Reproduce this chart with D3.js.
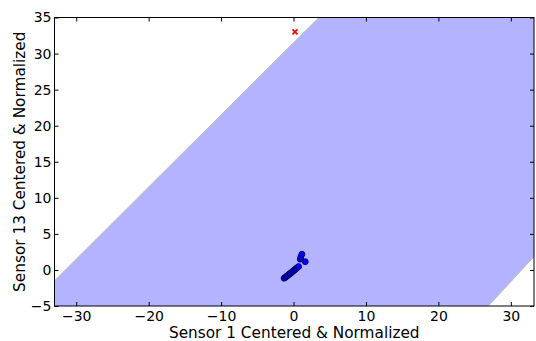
<!DOCTYPE html>
<html>
<head>
<meta charset="utf-8">
<script src="https://cdn.jsdelivr.net/npm/d3@7"></script>
<style>
body { margin: 0; background: #fff; }
text { font-family: "DejaVu Sans", sans-serif; }
</style>
</head>
<body>
<svg width="536" height="341"></svg>
<script>
// data
var xTicks = [-30, -20, -10, 0, 10, 20, 30];
var yTicks = [-5, 0, 5, 10, 15, 20, 25, 30, 35];
// band edges (upper-left and lower-right boundary lines)
var upperEdge = [[-33, -1.5], [3.5, 35]];
var lowerEdge = [[26.9, -5], [33.2, 1.85]];
// normal samples
var normX = [-1.3, -1.15, -1.0, -0.85, -0.7, -0.55, -0.4, -0.25, -0.1, 0.05, 0.2, 0.35, 0.5, 0.7, 0.93, 1.0, 1.16, 1.62];
var normY = [-1.15, -1.05, -0.92, -0.8, -0.68, -0.55, -0.45, -0.32, -0.2, -0.08, 0.05, 0.18, 0.3, 0.46, 1.48, 1.8, 2.18, 1.15];
// outlier
var outX = [0.2];
var outY = [33];

var margin = {left: 54.5, top: 17.5, right: 2, bottom: 35};
var W = 536, H = 341;

var svg = d3.select("svg");

var x = d3.scaleLinear().domain([-33, 33.2]).range([margin.left, W - margin.right]);
var y = d3.scaleLinear().domain([-5, 35]).range([H - margin.bottom, margin.top]);

svg.append("clipPath").attr("id", "clip")
    .append("rect")
    .attr("x", x.range()[0]).attr("y", y.range()[1])
    .attr("width", x.range()[1] - x.range()[0])
    .attr("height", y.range()[0] - y.range()[1]);

var plot = svg.append("g").attr("clip-path", "url(#clip)");

// band polygon: extend both edge lines far outside the axes
function extend(p) {
    var s = (p[1][1] - p[0][1]) / (p[1][0] - p[0][0]);
    var x0 = -100, x1 = 100;
    return [[x0, p[0][1] + s * (x0 - p[0][0])], [x1, p[0][1] + s * (x1 - p[0][0])]];
}
var up = extend(upperEdge), lo = extend(lowerEdge);
var poly = [up[0], up[1], lo[1], lo[0]];

plot.append("path")
    .attr("d", d3.line().x(function (d) { return x(d[0]); }).y(function (d) { return y(d[1]); })(poly) + "Z")
    .attr("fill", "#b3b3ff")
    .attr("stroke", "#bdbdbd")
    .attr("stroke-width", 1);

// normal points
var pts = normX.map(function (d, i) { return [d, normY[i]]; });
plot.selectAll("circle.n")
    .data(pts)
    .enter().append("circle")
    .attr("class", "n")
    .attr("cx", function (d) { return x(d[0]); })
    .attr("cy", function (d) { return y(d[1]); })
    .attr("r", 3)
    .attr("fill", "#0000ff")
    .attr("stroke", "#00004d")
    .attr("stroke-width", 0.8);

// outlier cross
var outs = outX.map(function (d, i) { return [d, outY[i]]; });
plot.selectAll("path.o")
    .data(outs)
    .enter().append("path")
    .attr("class", "o")
    .attr("transform", function (d) { return "translate(" + x(d[0]) + "," + y(d[1]) + ")"; })
    .attr("d", "M-2.5,-2.5L2.5,2.5M-2.5,2.5L2.5,-2.5")
    .attr("stroke", "#ff0000")
    .attr("stroke-width", 1.8);

// axes (ticks inward, all four sides)
var tickLen = 4;
var fmt = function (d) { return d < 0 ? "\u2212" + Math.abs(d) : d; };
var gx = svg.append("g").attr("transform", "translate(0," + y.range()[0] + ")")
    .call(d3.axisBottom(x).tickValues(xTicks).tickSizeInner(-tickLen).tickSizeOuter(0).tickPadding(5).tickFormat(fmt));
var gx2 = svg.append("g").attr("transform", "translate(0," + y.range()[1] + ")")
    .call(d3.axisTop(x).tickValues(xTicks).tickSizeInner(-tickLen).tickSizeOuter(0).tickFormat(""));
var gy = svg.append("g").attr("transform", "translate(" + x.range()[0] + ",0)")
    .call(d3.axisLeft(y).tickValues(yTicks).tickSizeInner(-tickLen).tickSizeOuter(0).tickPadding(3).tickFormat(fmt));
var gy2 = svg.append("g").attr("transform", "translate(" + x.range()[1] + ",0)")
    .call(d3.axisRight(y).tickValues(yTicks).tickSizeInner(-tickLen).tickSizeOuter(0).tickFormat(""));

[gx, gx2, gy, gy2].forEach(function (g) {
    g.select(".domain").remove();
    g.selectAll("line").attr("stroke", "#000").attr("stroke-width", 1);
    g.selectAll("text").attr("font-size", 14).attr("fill", "#000").style("font-family", "DejaVu Sans, sans-serif");
});

svg.append("rect")
    .attr("x", x.range()[0]).attr("y", y.range()[1])
    .attr("width", x.range()[1] - x.range()[0])
    .attr("height", y.range()[0] - y.range()[1])
    .attr("fill", "none").attr("stroke", "#000").attr("stroke-width", 1);

svg.append("text")
    .attr("x", (x.range()[0] + x.range()[1]) / 2)
    .attr("y", 338)
    .attr("text-anchor", "middle")
    .attr("font-size", 15.3)
    .attr("fill", "#000")
    .text("Sensor 1 Centered & Normalized");

svg.append("text")
    .attr("transform", "translate(25," + ((y.range()[0] + y.range()[1]) / 2) + ") rotate(-90)")
    .attr("text-anchor", "middle")
    .attr("font-size", 15.3)
    .attr("fill", "#000")
    .text("Sensor 13 Centered & Normalized");
</script>
</body>
</html>
